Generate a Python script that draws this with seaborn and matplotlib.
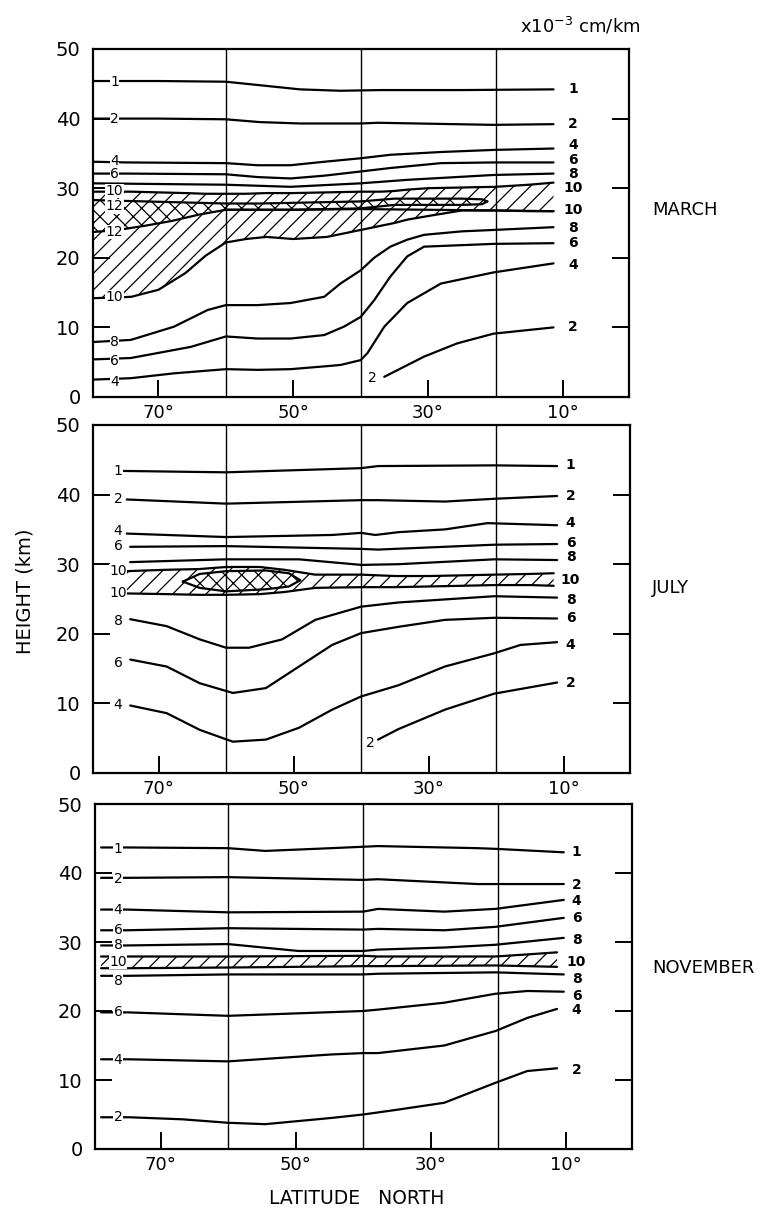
import numpy as np
import matplotlib
matplotlib.use("Agg")
import matplotlib.pyplot as plt
import seaborn as sns

sns.set_theme(style="white")
plt.rcParams['font.family'] = ['DejaVu Sans']
plt.rcParams['hatch.linewidth'] = 0.9
plt.rcParams['text.color'] = 'black'
plt.rcParams['xtick.color'] = 'black'
plt.rcParams['ytick.color'] = 'black'

# ---------------- axis data ----------------
lat_ticks = [70, 50, 30, 10]
lat_tick_labels = ["70\u00b0", "50\u00b0", "30\u00b0", "10\u00b0"]
height_ticks = [0, 10, 20, 30, 40, 50]
grid_lats = [60, 40, 20]

# ---------------- MARCH ----------------
m1_lat = [79.7, 70, 60, 55, 49, 43, 37, 25, 11.4]
m1_h = [45.4, 45.4, 45.3, 44.8, 44.2, 44.0, 44.1, 44.1, 44.2]
m2_lat = [79.7, 70, 60, 55, 49, 40, 37.4, 20.3, 11.4]
m2_h = [40.0, 40.0, 39.9, 39.5, 39.3, 39.3, 39.4, 39.1, 39.2]
m4_lat = [79.7, 74.6, 60, 55.3, 50.4, 45.4, 40, 35.6, 28.1, 20.3, 11.4]
m4_h = [33.8, 33.7, 33.6, 33.3, 33.3, 33.8, 34.3, 34.8, 35.2, 35.5, 35.7]
m6_lat = [79.7, 74.6, 60, 55.3, 50.4, 45.4, 40, 35.6, 28.1, 20.3, 11.4]
m6_h = [32.1, 32.1, 32.0, 31.6, 31.4, 31.8, 32.4, 32.9, 33.6, 33.7, 33.7]
m8u_lat = [79.7, 60, 50.4, 40, 33.1, 20.3, 11.4]
m8u_h = [30.7, 30.5, 30.2, 30.7, 31.2, 31.9, 32.1]
m10_lat = [79.7, 76, 74, 70, 66, 63, 60, 57, 54, 50, 45, 40, 37, 35, 33, 30, 25, 20, 15, 11.4]
m10_top = [29.5, 29.5, 29.5, 29.4, 29.3, 29.2, 29.2, 29.2, 29.3, 29.3, 29.4, 29.5, 29.5, 29.6, 29.8, 30.0, 30.1, 30.2, 30.5, 30.8]
m10_bot = [14.2, 14.3, 14.4, 15.4, 17.8, 20.3, 22.2, 22.7, 23.0, 22.7, 23.0, 24.0, 24.6, 25.0, 25.5, 26.0, 26.8, 26.8, 26.7, 26.7]
mmid_lat = [60, 50, 40, 30, 20, 11.4]
mmid_h = [26.9, 26.9, 27.0, 26.9, 26.8, 26.7]
m12_lat = [79.7, 76, 72, 68, 64, 60, 55, 50, 45, 40, 35, 30, 25, 22, 21.2]
m12_top = [28.3, 28.2, 28.1, 28.0, 27.9, 27.8, 27.8, 27.9, 28.0, 28.1, 28.5, 28.5, 28.5, 28.4, 28.1]
m12_bot = [23.7, 24.0, 24.6, 25.3, 26.2, 26.9, 26.9, 26.9, 27.0, 27.1, 27.6, 27.6, 27.6, 27.7, 28.1]
m8l_lat = [79.7, 74.1, 67.7, 62.7, 60, 55.3, 50.4, 45.4, 43, 40, 38, 35.6, 33.1, 30.6, 25, 20.3, 11.4]
m8l_h = [7.9, 8.2, 10.1, 12.5, 13.2, 13.2, 13.5, 14.4, 16.3, 18.2, 20.0, 21.6, 22.6, 23.3, 23.8, 24.0, 24.4]
m6l_lat = [79.7, 74.1, 65.2, 60, 55.3, 50.4, 45.4, 42.5, 40, 38, 35.6, 33.1, 30.6, 20.3, 11.4]
m6l_h = [5.4, 5.6, 7.2, 8.7, 8.4, 8.4, 8.9, 10.1, 11.5, 13.9, 17.3, 20.2, 21.6, 22.0, 22.1]
m4l_lat = [79.7, 74.1, 67.7, 60, 55.3, 50.4, 45.4, 43, 40, 39, 36.5, 33.1, 28.1, 20.3, 11.4]
m4l_h = [2.5, 2.7, 3.4, 4.0, 3.9, 4.0, 4.4, 4.6, 5.3, 6.3, 10.1, 13.5, 16.3, 17.9, 19.2]
m2l_lat = [36.5, 30.6, 25.7, 20.3, 11.4]
m2l_h = [2.9, 5.8, 7.7, 9.1, 10.0]
m_left_text = ["1", "2", "4", "6", "10", "12", "12", "10", "8", "6", "4"]
m_left_h = [45.3, 40.0, 33.9, 32.1, 29.6, 27.4, 23.7, 14.3, 7.9, 5.2, 2.1]
m_right_text = ["1", "2", "4", "6", "8", "10", "10", "8", "6", "4", "2"]
m_right_h = [44.2, 39.2, 36.2, 34.1, 32.1, 30.1, 26.9, 24.3, 22.1, 19.0, 10.1]
m_extra_text = ["2"]
m_extra_lat = [38.2]
m_extra_h = [2.7]

# ---------------- JULY ----------------
j1_lat = [75.2, 60, 40, 37.5, 20.3, 11.0]
j1_h = [43.4, 43.2, 43.8, 44.1, 44.2, 44.1]
j2_lat = [74.7, 60, 40, 37.5, 27.6, 20.3, 11.0]
j2_h = [39.3, 38.7, 39.2, 39.2, 39.0, 39.4, 39.8]
j4_lat = [74.7, 60, 44.3, 40, 37.9, 34.5, 27.6, 21.3, 11.0]
j4_h = [34.4, 33.9, 34.2, 34.5, 34.2, 34.6, 35.0, 35.9, 35.6]
j6_lat = [74.2, 60, 40, 37.5, 20.3, 11.0]
j6_h = [32.5, 32.6, 32.2, 32.1, 32.8, 32.9]
j8u_lat = [74.2, 60, 49.2, 40, 34.5, 20.3, 11.0]
j8u_h = [30.3, 30.7, 30.7, 29.9, 30.0, 30.7, 30.6]
j10_lat = [74.7, 68.8, 64, 60, 55, 51.4, 46.8, 40, 35, 30, 25, 20.3, 15, 11.5]
j10_top = [29.0, 29.2, 29.3, 29.6, 29.6, 29.2, 28.5, 28.5, 28.3, 28.3, 28.4, 28.5, 28.6, 28.7]
j10_bot = [25.8, 25.7, 25.6, 25.6, 25.7, 26.0, 26.6, 26.7, 26.7, 26.8, 26.9, 27.0, 27.0, 26.9]
jeye_lat = [66.4, 63.9, 60, 54.1, 50.7, 49.0]
jeye_top = [27.5, 28.6, 29.0, 29.1, 28.7, 27.7]
jeye_bot = [27.5, 26.6, 26.1, 26.4, 26.8, 27.7]
j8l_lat = [74.2, 68.8, 63.9, 60, 56.6, 51.7, 46.8, 40, 34.5, 20.3, 11.0]
j8l_h = [22.1, 21.1, 19.2, 18.0, 18.0, 19.2, 22.0, 23.9, 24.5, 25.4, 25.2]
j6l_lat = [74.2, 68.8, 63.9, 59.0, 54.1, 49.2, 44.3, 40, 34.5, 27.6, 20.3, 11.0]
j6l_h = [16.3, 15.3, 12.9, 11.5, 12.2, 15.3, 18.4, 20.1, 21.0, 22.0, 22.3, 22.2]
j4l_lat = [74.2, 68.8, 63.9, 59.0, 54.1, 49.2, 44.3, 40, 34.5, 27.6, 20.3, 16.4, 11.0]
j4l_h = [9.7, 8.6, 6.2, 4.5, 4.8, 6.5, 9.1, 11.0, 12.6, 15.3, 17.2, 18.4, 18.8]
j2l_lat = [37.5, 34.5, 27.6, 20.3, 11.0]
j2l_h = [4.8, 6.3, 9.1, 11.4, 13.0]
j_left_text = ["1", "2", "4", "6", "10", "10", "8", "6", "4"]
j_left_h = [43.4, 39.3, 34.7, 32.6, 29.0, 25.9, 21.8, 15.8, 9.8]
j_right_text = ["1", "2", "4", "6", "8", "10", "8", "6", "4", "2"]
j_right_h = [44.3, 39.8, 35.9, 33.0, 31.1, 27.8, 24.9, 22.3, 18.4, 12.9]
j_extra_text = ["2"]
j_extra_lat = [38.6]
j_extra_h = [4.3]

# ---------------- NOVEMBER ----------------
n1_lat = [78.8, 74.8, 60, 54.5, 44.7, 37.8, 23.1, 20.4, 10.3]
n1_h = [43.7, 43.7, 43.6, 43.2, 43.6, 43.9, 43.6, 43.5, 43.0]
n2_lat = [78.8, 75.0, 60, 40, 37.8, 23.1, 10.3]
n2_h = [39.3, 39.3, 39.4, 39.0, 39.1, 38.4, 38.4]
n4_lat = [78.8, 75.0, 60, 40, 37.8, 28.0, 20.4, 10.3]
n4_h = [34.7, 34.7, 34.3, 34.4, 34.8, 34.4, 34.8, 36.1]
n6_lat = [78.8, 75.0, 60, 40, 37.8, 28.0, 20.4, 10.3]
n6_h = [31.7, 31.7, 32.0, 31.8, 31.9, 31.7, 32.2, 33.5]
n8u_lat = [78.8, 75.0, 60, 49.6, 40, 37.8, 28.0, 20.4, 10.3]
n8u_h = [29.5, 29.5, 29.7, 28.7, 28.7, 28.9, 29.2, 29.6, 30.6]
n10_lat = [78.8, 75, 60, 40, 37.8, 20.4, 15.7, 11.3]
n10_top = [27.9, 27.9, 27.9, 28.0, 27.9, 27.9, 28.2, 28.5]
n10_bot = [26.2, 26.2, 26.3, 26.5, 26.5, 26.6, 26.5, 26.4]
n8l_lat = [78.8, 74.8, 60, 40, 37.8, 20.4, 10.3]
n8l_h = [25.1, 25.1, 25.3, 25.3, 25.4, 25.6, 25.3]
n6l_lat = [78.8, 74.8, 60, 40, 37.8, 28.0, 20.4, 15.7, 10.3]
n6l_h = [19.8, 19.8, 19.3, 20.0, 20.2, 21.2, 22.5, 22.9, 22.8]
n4l_lat = [78.8, 74.6, 60, 44.7, 40, 37.8, 28.0, 20.4, 15.7, 11.3]
n4l_h = [13.0, 13.0, 12.7, 13.7, 13.9, 13.9, 15.0, 17.1, 19.0, 20.3]
n2l_lat = [78.8, 74.6, 66.7, 60, 54.5, 44.7, 40, 37.8, 34.9, 28.0, 20.4, 15.7, 11.3]
n2l_h = [4.6, 4.6, 4.3, 3.8, 3.6, 4.5, 5.0, 5.3, 5.7, 6.7, 9.6, 11.3, 11.7]
n_left_text = ["1", "2", "4", "6", "8", "10", "8", "6", "4", "2"]
n_left_h = [43.5, 39.1, 34.7, 31.8, 29.6, 27.1, 24.4, 19.8, 12.9, 4.6]
n_right_text = ["1", "2", "4", "6", "8", "10", "8", "6", "4", "2"]
n_right_h = [43.1, 38.3, 35.9, 33.5, 30.3, 27.1, 24.6, 22.2, 20.1, 11.5]

month_names = ["MARCH", "JULY", "NOVEMBER"]

# ---------------- figure ----------------
fig = plt.figure(figsize=(7.65, 12.12), dpi=100)
W, H = 765.0, 1212.0
boxes = [(93, 49, 629, 397), (93, 425, 630, 773), (95, 804, 632, 1149)]
axes = []
for (l, t, r, b) in boxes:
    axes.append(fig.add_axes([l / W, 1 - b / H, (r - l) / W, (b - t) / H]))

LW = 1.6


def line(ax, x, y):
    sns.lineplot(x=x, y=y, ax=ax, color="black", linewidth=LW, sort=False,
                 estimator=None, errorbar=None, zorder=3)


def setup(ax):
    ax.set_xlim(79.7, 0.2)
    ax.set_ylim(0, 50)
    ax.set_xticks(lat_ticks)
    ax.set_xticklabels(lat_tick_labels)
    ax.set_yticks(height_ticks)
    ax.set_yticklabels([str(v) for v in height_ticks])
    ax.tick_params(direction="in", length=12, width=1.4, colors="black",
                   top=False, right=True, left=True, bottom=True)
    ax.tick_params(axis="y", labelsize=14, pad=9)
    ax.tick_params(axis="x", labelsize=13, pad=5)
    for sp in ax.spines.values():
        sp.set_linewidth(1.6)
        sp.set_color("black")
        sp.set_visible(True)
    for v in grid_lats:
        ax.axvline(v, color="black", lw=1.0, zorder=2)
    ax.set_xlabel("")
    ax.set_ylabel("")
    ax.grid(False)


def labels(ax, left_text, left_h, left_lat, right_text, right_h, right_lat):
    for t, h in zip(left_text, left_h):
        ax.text(left_lat, h, t, ha="center", va="center", fontsize=10,
                zorder=6, bbox=dict(fc="white", ec="none", pad=0.2))
    for t, h in zip(right_text, right_h):
        ax.text(right_lat, h, t, ha="center", va="center", fontsize=10,
                fontweight="bold", zorder=6)


# MARCH
ax = axes[0]
ax.fill_between(m10_lat, m10_bot, m10_top, facecolor="none", edgecolor="black",
                linewidth=0, hatch="//", zorder=1)
ax.fill_between(m12_lat, m12_bot, m12_top, facecolor="white", edgecolor="black",
                linewidth=0, hatch="xx", zorder=1.5)
for x, y in [(m1_lat, m1_h), (m2_lat, m2_h), (m4_lat, m4_h), (m6_lat, m6_h),
             (m8u_lat, m8u_h), (m10_lat, m10_top), (m10_lat, m10_bot),
             (mmid_lat, mmid_h), (m8l_lat, m8l_h), (m6l_lat, m6l_h),
             (m4l_lat, m4l_h), (m2l_lat, m2l_h)]:
    line(ax, x, y)
line(ax, m12_lat, m12_top)
line(ax, m12_lat, m12_bot)
setup(ax)
labels(ax, m_left_text, m_left_h, 76.5, m_right_text, m_right_h, 8.5)
for t, x, y in zip(m_extra_text, m_extra_lat, m_extra_h):
    ax.text(x, y, t, ha="center", va="center", fontsize=10, zorder=6)

# JULY
ax = axes[1]
ax.fill_between(j10_lat, j10_bot, j10_top, facecolor="none", edgecolor="black",
                linewidth=0, hatch="//", zorder=1)
ax.fill_between(jeye_lat, jeye_bot, jeye_top, facecolor="white", edgecolor="black",
                linewidth=0, hatch="xx", zorder=1.5)
for x, y in [(j1_lat, j1_h), (j2_lat, j2_h), (j4_lat, j4_h), (j6_lat, j6_h),
             (j8u_lat, j8u_h), (j10_lat, j10_top), (j10_lat, j10_bot),
             (j8l_lat, j8l_h), (j6l_lat, j6l_h), (j4l_lat, j4l_h), (j2l_lat, j2l_h)]:
    line(ax, x, y)
line(ax, jeye_lat + jeye_lat[::-1], jeye_top + jeye_bot[::-1])
setup(ax)
labels(ax, j_left_text, j_left_h, 76.0, j_right_text, j_right_h, 9.0)
for t, x, y in zip(j_extra_text, j_extra_lat, j_extra_h):
    ax.text(x, y, t, ha="center", va="center", fontsize=10, zorder=6)

# NOVEMBER
ax = axes[2]
ax.fill_between(n10_lat, n10_bot, n10_top, facecolor="none", edgecolor="black",
                linewidth=0, hatch="//", zorder=1)
for x, y in [(n1_lat, n1_h), (n2_lat, n2_h), (n4_lat, n4_h), (n6_lat, n6_h),
             (n8u_lat, n8u_h), (n10_lat, n10_top), (n10_lat, n10_bot),
             (n8l_lat, n8l_h), (n6l_lat, n6l_h), (n4l_lat, n4l_h), (n2l_lat, n2l_h)]:
    line(ax, x, y)
setup(ax)
labels(ax, n_left_text, n_left_h, 76.3, n_right_text, n_right_h, 8.4)

# month labels
for name, yc in zip(month_names, [210, 588, 968]):
    fig.text(652 / W, 1 - yc / H, name, ha="left", va="center", fontsize=13)

fig.text(25 / W, 1 - 591 / H, "HEIGHT (km)", rotation=90, ha="center",
         va="center", fontsize=14)
fig.text(357 / W, 1 - 1198 / H, "LATITUDE   NORTH", ha="center", va="center",
         fontsize=13.5)
fig.text(580 / W, 1 - 26 / H, r"x10$^{-3}$ cm/km", ha="center", va="center",
         fontsize=13)

fig.savefig("out.png", dpi=100, facecolor="white")
